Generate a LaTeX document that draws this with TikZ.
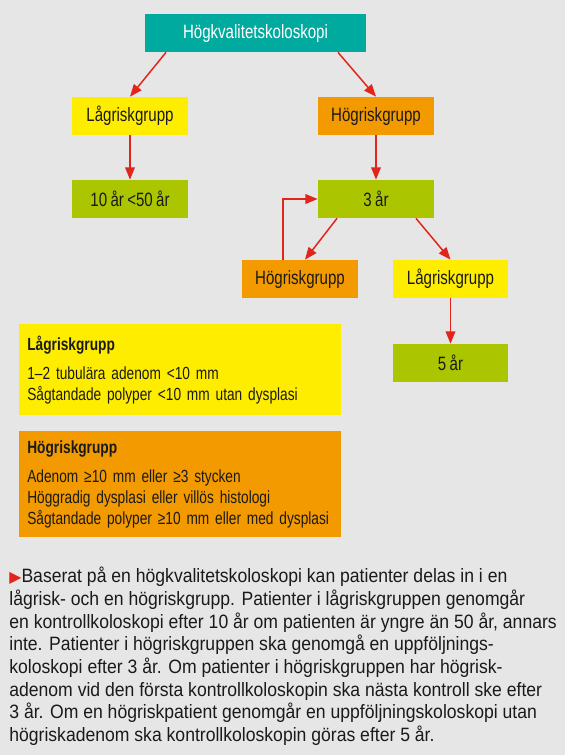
\documentclass[tikz,border=0pt]{standalone}
\usepackage{fontspec}
\setmainfont{Liberation Sans}[FakeStretch=0.91]
\newfontfamily\boxfont{Liberation Sans}[FakeStretch=0.78, WordSpace=0.8]
\newfontfamily\symfont{DejaVu Sans}
\usepackage{xcolor}
\usetikzlibrary{arrows.meta, positioning}
\definecolor{bggray}{HTML}{E6E6E6}
\definecolor{topteal}{HTML}{00AA9E}
\definecolor{lowyellow}{HTML}{FFED00}
\definecolor{highorange}{HTML}{F29A00}
\definecolor{yeargreen}{HTML}{ABC500}
\definecolor{arrowred}{HTML}{E1251B}
\definecolor{textdark}{HTML}{1A1A1A}
\tikzset{
    box/.style={fill=#1, minimum width=2.32cm, minimum height=0.76cm, inner sep=0pt,
        text=textdark, font=\boxfont\fontsize{11}{12}\selectfont},
    flow/.style={draw=arrowred, line width=0.85pt, -{Triangle[length=7pt, width=5.5pt]}},
    legend/.style={fill=#1, anchor=north west, minimum height=1.82cm, text width=6.12cm,
        inner xsep=0.16cm, inner ysep=0pt, align=left, text=textdark,
        font=\boxfont\fontsize{10}{12}\selectfont}
}

\begin{document}
\begin{tikzpicture}[x=0.02cm, y=-0.02cm]
    % Bakgrund
    \fill[bggray] (0,0) rectangle (565,755);
    \useasboundingbox (0,0) rectangle (565,755);

    % Rutor
    \node[box=topteal, minimum width=4.42cm, text=white] (top) at (255.5,33) {Högkvalitetskoloskopi};
    \node[box=lowyellow] (low) at (130,116) {Lågriskgrupp};
    \node[box=highorange] (high) at (376,116) {Högriskgrupp};
    \node[box=yeargreen] (ten) at (130,199) {10 år <50 år};
    \node[box=yeargreen] (three) at (376,199) {3 år};
    \node[box=highorange] (hightwo) at (300,279) {Högriskgrupp};
    \node[box=lowyellow] (lowtwo) at (450.5,279) {Lågriskgrupp};
    \node[box=yeargreen] (five) at (450.5,363) {5 år};

    % Pilar
    \draw[flow] ([xshift=-1.79cm]top.south) -- (low.north);
    \draw[flow] ([xshift=1.65cm]top.south) -- (high.north);
    \draw[flow] (low) -- (ten);
    \draw[flow] (high) -- (three);
    \draw[flow] ([xshift=-0.78cm]three.south) -- ([xshift=0.1cm]hightwo.north);
    \draw[flow] ([xshift=0.8cm]three.south) -- (lowtwo.north);
    \draw[flow] ([xshift=-0.34cm]hightwo.north) |- (three.west);
    \draw[flow] (lowtwo) -- (five);

    % Förklaringar
    \node[legend=lowyellow] (lowkey) at (19,324) {\textbf{Lågriskgrupp}\\[4.5pt]
        1–2 tubulära adenom <10 mm\\
        Sågtandade polyper <10 mm utan dysplasi};
    \node[legend=highorange, minimum height=2.12cm] (highkey) at (19,431) {\textbf{Högriskgrupp}\\[4.5pt]
        Adenom ≥10 mm eller ≥3 stycken\\
        Höggradig dysplasi eller villös histologi\\
        Sågtandade polyper ≥10 mm eller med dysplasi};

    % Bildtext
    \node[anchor=north west, inner sep=0pt, align=left, text=textdark,
        font=\fontsize{11}{12.9}\selectfont] (caption) at (9,567)
        {{\color{arrowred}\symfont\fontsize{9}{9}\selectfont ▶}Baserat på en högkvalitetskoloskopi kan patienter delas in i en\\
        lågrisk- och en högriskgrupp. Patienter i lågriskgruppen genomgår\\
        en kontrollkoloskopi efter 10 år om patienten är yngre än 50 år, annars\\
        inte. Patienter i högriskgruppen ska genomgå en uppföljnings-\\
        koloskopi efter 3 år. Om patienter i högriskgruppen har högrisk-\\
        adenom vid den första kontrollkoloskopin ska nästa kontroll ske efter\\
        3 år. Om en högriskpatient genomgår en uppföljningskoloskopi utan\\
        högriskadenom ska kontrollkoloskopin göras efter 5 år.};
\end{tikzpicture}
\end{document}
